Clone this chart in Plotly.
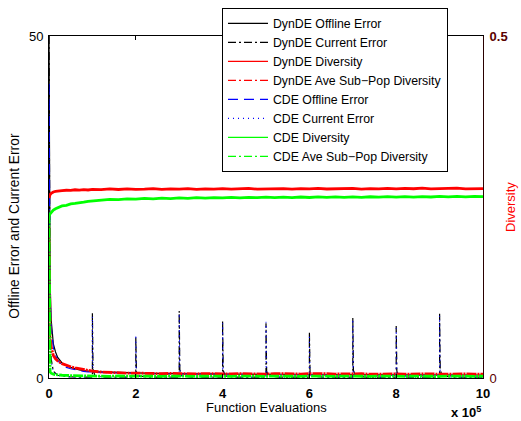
import plotly.graph_objects as go

# ---------------- data ----------------
x_grid = [0, 1000, 2500, 5000, 7500, 10000, 15000, 20000, 30000, 40000, 50000,
          60000, 70000, 80000, 90000, 100000] + list(range(120000, 1000001, 20000))

dyn_offline = [50.0, 28.0, 14.0, 8.5, 6.2, 5.0, 3.8, 3.0, 2.2, 1.8, 1.55, 1.35, 1.2, 1.08, 0.98, 0.92,
               0.90, 0.84, 0.79, 0.75, 0.74, 0.71, 0.68, 0.66, 0.64, 0.63,
               0.61, 0.60, 0.58, 0.57, 0.57, 0.56, 0.55, 0.54, 0.53, 0.53,
               0.52, 0.52, 0.51, 0.50, 0.50, 0.50, 0.49, 0.49, 0.48, 0.48,
               0.48, 0.47, 0.47, 0.47, 0.46, 0.46, 0.46, 0.46, 0.45, 0.45,
               0.45, 0.45, 0.44, 0.44, 0.44]

cde_offline = [43.0, 24.0, 12.0, 7.5, 5.5, 4.4, 3.3, 2.6, 1.9, 1.55, 1.35, 1.2, 1.08, 0.98, 0.9, 0.85,
               0.82, 0.77, 0.73, 0.70, 0.69, 0.66, 0.63, 0.61, 0.60, 0.58,
               0.57, 0.56, 0.54, 0.53, 0.53, 0.52, 0.51, 0.50, 0.49, 0.49,
               0.48, 0.48, 0.47, 0.46, 0.46, 0.46, 0.45, 0.45, 0.44, 0.44,
               0.44, 0.43, 0.43, 0.43, 0.42, 0.42, 0.42, 0.42, 0.41, 0.41,
               0.41, 0.41, 0.40, 0.40, 0.40]

dyn_div = [0.2630, 0.2660, 0.2680, 0.2700, 0.2712, 0.2720, 0.2728, 0.2735, 0.2741, 0.2745, 0.2742,
           0.2752, 0.2746, 0.2755, 0.2749, 0.2757,
           0.2753, 0.2764, 0.2756, 0.2766, 0.2758, 0.2762, 0.2769, 0.2757, 0.2765, 0.2760,
           0.2768, 0.2759, 0.2766, 0.2761, 0.2770, 0.2760, 0.2765, 0.2771, 0.2761, 0.2767,
           0.2762, 0.2769, 0.2760, 0.2768, 0.2764, 0.2772, 0.2763, 0.2769, 0.2765, 0.2773,
           0.2762, 0.2770, 0.2766, 0.2773, 0.2764, 0.2771, 0.2767, 0.2775, 0.2765, 0.2772,
           0.2768, 0.2775, 0.2766, 0.2773, 0.2770]

cde_div = [0.2390, 0.2375, 0.2400, 0.2425, 0.2445, 0.2455, 0.2475, 0.2490, 0.2515, 0.2525, 0.2545,
           0.2552, 0.2566, 0.2570, 0.2582, 0.2586,
           0.2597, 0.2612, 0.2607, 0.2619, 0.2614, 0.2625, 0.2619, 0.2629, 0.2623, 0.2633,
           0.2626, 0.2636, 0.2630, 0.2638, 0.2632, 0.2640, 0.2634, 0.2642, 0.2636, 0.2644,
           0.2637, 0.2645, 0.2638, 0.2646, 0.2639, 0.2647, 0.2640, 0.2648, 0.2641, 0.2649,
           0.2642, 0.2650, 0.2643, 0.2651, 0.2644, 0.2652, 0.2645, 0.2653, 0.2646, 0.2654,
           0.2647, 0.2655, 0.2648, 0.2656, 0.2652]

dyn_subpop = [0.2200, 0.0850, 0.0600, 0.0450, 0.0370, 0.0330, 0.0280, 0.0250, 0.0210, 0.0185, 0.0165,
              0.0148, 0.0135, 0.0122, 0.0112, 0.0100,
              0.0088, 0.0080, 0.0074, 0.0070, 0.0072, 0.0066, 0.0069, 0.0063, 0.0067, 0.0062,
              0.0066, 0.0061, 0.0065, 0.0060, 0.0064, 0.0059, 0.0065, 0.0060, 0.0063, 0.0058,
              0.0064, 0.0059, 0.0062, 0.0058, 0.0063, 0.0057, 0.0062, 0.0058, 0.0061, 0.0057,
              0.0062, 0.0056, 0.0061, 0.0057, 0.0060, 0.0056, 0.0061, 0.0055, 0.0060, 0.0056,
              0.0059, 0.0055, 0.0060, 0.0056, 0.0057]

cde_subpop = [0.2400, 0.0140, 0.0090, 0.0070, 0.0060, 0.0055, 0.0050, 0.0045, 0.0040, 0.0037, 0.0035,
              0.0033, 0.0032, 0.0031, 0.0030, 0.0030,
              0.0028, 0.0025, 0.0029, 0.0026, 0.0028, 0.0024, 0.0027, 0.0025, 0.0028, 0.0024,
              0.0027, 0.0025, 0.0028, 0.0024, 0.0027, 0.0025, 0.0028, 0.0024, 0.0027, 0.0025,
              0.0028, 0.0024, 0.0027, 0.0025, 0.0028, 0.0024, 0.0027, 0.0025, 0.0028, 0.0024,
              0.0027, 0.0025, 0.0028, 0.0024, 0.0027, 0.0025, 0.0028, 0.0024, 0.0027, 0.0025,
              0.0028, 0.0024, 0.0027, 0.0025, 0.0026]

cur_x = [0, 500, 1000, 2500, 5000, 10000, 20000, 50000,
         100000, 100000, 101500, 106000, 130000,
         200000, 200000, 201500, 206000, 230000,
         300000, 300000, 301500, 306000, 330000,
         400000, 400000, 401500, 406000, 430000,
         500000, 500000, 501500, 506000, 530000,
         600000, 600000, 601500, 606000, 630000,
         700000, 700000, 701500, 706000, 730000,
         800000, 800000, 801500, 806000, 830000,
         900000, 900000, 901500, 906000, 930000,
         1000000]

dyn_current = [50.0, 30.0, 18.0, 7.0, 2.8, 1.0, 0.4, 0.15,
               0.12, 9.5, 1.2, 0.3, 0.12,
               0.12, 6.0, 0.9, 0.3, 0.12,
               0.12, 9.8, 1.2, 0.3, 0.12,
               0.12, 8.4, 1.1, 0.3, 0.12,
               0.12, 8.0, 1.0, 0.3, 0.12,
               0.12, 6.7, 0.9, 0.3, 0.12,
               0.12, 8.8, 1.1, 0.3, 0.12,
               0.12, 7.6, 1.0, 0.3, 0.12,
               0.12, 9.4, 1.2, 0.3, 0.12,
               0.12]

cde_current = [43.0, 26.0, 15.0, 6.0, 2.4, 0.9, 0.35, 0.14,
               0.11, 9.0, 1.1, 0.3, 0.11,
               0.11, 6.3, 0.9, 0.3, 0.11,
               0.11, 9.4, 1.2, 0.3, 0.11,
               0.11, 8.0, 1.0, 0.3, 0.11,
               0.11, 8.2, 1.0, 0.3, 0.11,
               0.11, 6.3, 0.9, 0.3, 0.11,
               0.11, 8.6, 1.1, 0.3, 0.11,
               0.11, 7.3, 1.0, 0.3, 0.11,
               0.11, 9.1, 1.2, 0.3, 0.11,
               0.11]

x_tickvals = [0, 200000, 400000, 600000, 800000, 1000000]
x_ticklabels = ["0", "2", "4", "6", "8", "10"]

series_names = ["DynDE Offline Error", "DynDE Current Error", "DynDE Diversity",
                "DynDE Ave Sub\u2212Pop Diversity", "CDE Offline Error", "CDE Current Error",
                "CDE Diversity", "CDE Ave Sub\u2212Pop Diversity"]

# ---------------- figure ----------------
FONT = "Liberation Sans, Arial, Helvetica, sans-serif"
DASHDOT = "8px,3px,2px,3px"
DENSE_DASHDOT = "10px,1px,2px,1px"
DOT = "1px,4px"
DASH = "10px,6px"

# (x, y, axis, colour, plot width, plot dash, legend dash)
specs = [
    (x_grid, dyn_offline, "y", "black", 1.2, "solid", "solid"),
    (cur_x, dyn_current, "y", "black", 1.2, DASHDOT, DASHDOT),
    (x_grid, dyn_div, "y2", "#ff0000", 2.8, "solid", "solid"),
    (x_grid, dyn_subpop, "y2", "#ff0000", 2.8, DENSE_DASHDOT, DASHDOT),
    (x_grid, cde_offline, "y", "#0000ff", 1.2, DASH, DASH),
    (cur_x, cde_current, "y", "#0000ff", 1.0, DOT, DOT),
    (x_grid, cde_div, "y2", "#00ff00", 2.8, "solid", "solid"),
    (x_grid, cde_subpop, "y2", "#00ff00", 2.8, DENSE_DASHDOT, DASHDOT),
]

fig = go.Figure()
for name, (xs, ys, ax, col, w, dash, _) in zip(series_names, specs):
    fig.add_trace(go.Scatter(x=xs, y=ys, mode="lines", name=name, yaxis=ax, showlegend=False,
                             hoverinfo="skip", line=dict(color=col, width=w, dash=dash)))
# thin legend keys (as in the reference legend)
for name, (xs, ys, ax, col, w, dash, ldash) in zip(series_names, specs):
    fig.add_trace(go.Scatter(x=[None], y=[None], mode="lines", name=name, yaxis=ax,
                             showlegend=True, line=dict(color=col, width=1.3, dash=ldash)))

fig.update_layout(
    width=521, height=421,
    margin=dict(l=49, r=38, t=36, b=43, pad=0, autoexpand=False),
    paper_bgcolor="white", plot_bgcolor="white",
    font=dict(family=FONT, size=13, color="black"),
    showlegend=True,
    legend=dict(x=0.3986, y=1.082, xanchor="left", yanchor="top",
                bgcolor="white", bordercolor="black", borderwidth=1,
                font=dict(family=FONT, size=12.3, color="black"),
                itemwidth=40, tracegroupgap=0, traceorder="normal"),
    xaxis=dict(range=[0, 1000000], tickvals=x_tickvals,
               ticktext=["<b>%s</b>" % t for t in x_ticklabels],
               tickfont=dict(size=13, color="black"),
               ticks="inside", ticklen=4, tickcolor="black", ticklabelstandoff=3,
               showline=True, linecolor="black", linewidth=1, mirror="ticks",
               showgrid=False, zeroline=False, automargin=False),
    yaxis=dict(range=[0, 50], tickvals=[0, 50], ticktext=["0", "50"],
               tickfont=dict(size=13, color="black"),
               ticks="inside", ticklen=4, tickcolor="black", ticklabelstandoff=2,
               showline=True, linecolor="black", linewidth=1,
               showgrid=False, zeroline=False, automargin=False),
    yaxis2=dict(range=[0, 0.5], tickvals=[0, 0.5], ticktext=["0", "<b>0.5</b>"],
                overlaying="y", side="right",
                tickfont=dict(size=13, color="#5a0000"),
                ticks="inside", ticklen=4, tickcolor="#3a0000", ticklabelstandoff=3,
                showline=True, linecolor="#2a0000", linewidth=1,
                showgrid=False, zeroline=False, automargin=False),
    annotations=[
        dict(text="Function Evaluations", x=0.5, xref="paper", xanchor="center",
             y=-0.087, yref="paper", yanchor="middle", showarrow=False,
             font=dict(size=13, color="black")),
        dict(text="Offline Error and Current Error", x=-0.0783, xref="paper", xanchor="center",
             y=0.445, yref="paper", yanchor="middle", textangle=-90, showarrow=False,
             font=dict(size=13.8, color="black")),
        dict(text="Diversity", x=1.0622, xref="paper", xanchor="center",
             y=0.5, yref="paper", yanchor="middle", textangle=-90, showarrow=False,
             font=dict(size=13, color="#ff0000")),
        dict(text="<b>x 10<sup>5</sup></b>", x=1, xref="paper", xanchor="right",
             y=-0.098, yref="paper", yanchor="middle", showarrow=False,
             font=dict(size=13, color="black")),
    ],
)

fig.write_html("out.html", config={"displayModeBar": False},
               post_script="document.body.style.margin='0';")
